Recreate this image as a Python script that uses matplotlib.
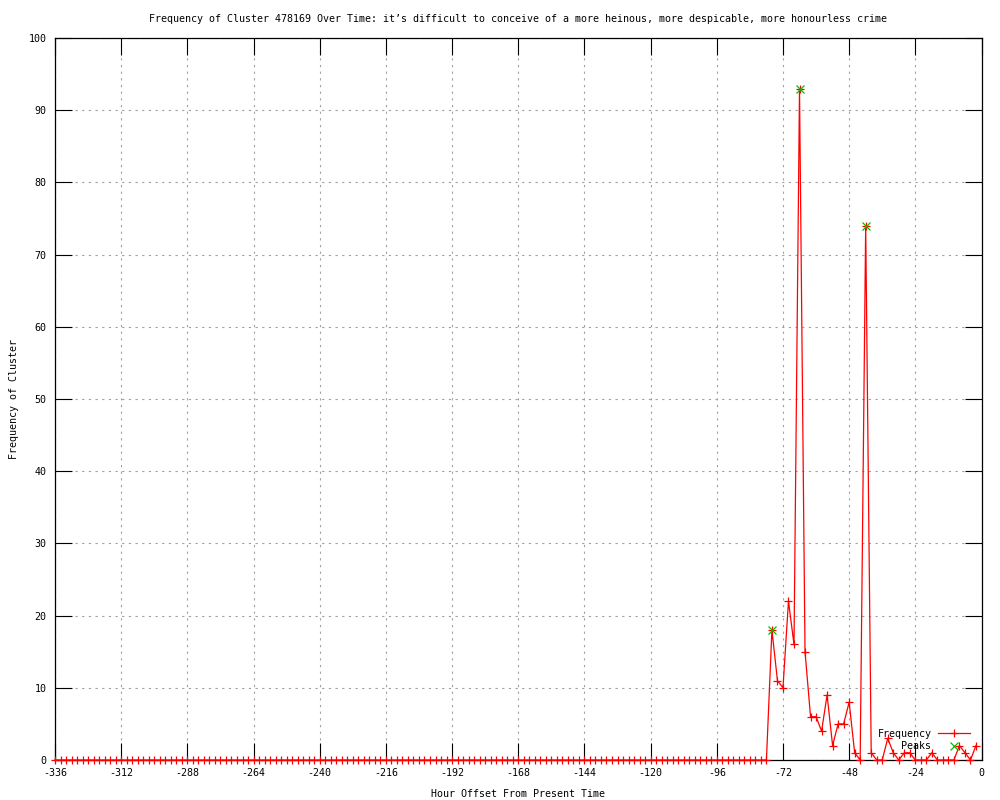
import numpy as np
import matplotlib
matplotlib.use("Agg")
import matplotlib.pyplot as plt

plt.rcParams['font.family'] = ['DejaVu Sans Mono']
plt.rcParams['axes.unicode_minus'] = False

# hour offsets, one reading every 2 hours
hours = np.arange(-336, 0, 2)

# cluster frequency per 2-hour bin, -336 .. -2
freq = [
    0, 0, 0, 0, 0, 0, 0, 0, 0, 0, 0, 0,   # -336 .. -314
    0, 0, 0, 0, 0, 0, 0, 0, 0, 0, 0, 0,   # -312 .. -290
    0, 0, 0, 0, 0, 0, 0, 0, 0, 0, 0, 0,   # -288 .. -266
    0, 0, 0, 0, 0, 0, 0, 0, 0, 0, 0, 0,   # -264 .. -242
    0, 0, 0, 0, 0, 0, 0, 0, 0, 0, 0, 0,   # -240 .. -218
    0, 0, 0, 0, 0, 0, 0, 0, 0, 0, 0, 0,   # -216 .. -194
    0, 0, 0, 0, 0, 0, 0, 0, 0, 0, 0, 0,   # -192 .. -170
    0, 0, 0, 0, 0, 0, 0, 0, 0, 0, 0, 0,   # -168 .. -146
    0, 0, 0, 0, 0, 0, 0, 0, 0, 0, 0, 0,   # -144 .. -122
    0, 0, 0, 0, 0, 0, 0, 0, 0, 0, 0, 0,   # -120 .. -98
    0, 0, 0, 0, 0, 0, 0, 0, 0, 0, 18, 11, # -96 .. -74
    10, 22, 16, 93, 15, 6, 6, 4, 9, 2, 5, 5,  # -72 .. -50
    8, 1, 0, 74, 1, 0, 0, 3, 1, 0, 1, 1,  # -48 .. -26
    0, 0, 0, 1, 0, 0, 0, 0, 2, 1, 0, 2,   # -24 .. -2
]

peak_hours = [-76, -66, -42]
peak_vals = [18, 93, 74]

xticks = np.arange(-336, 1, 24)
yticks = np.arange(0, 101, 10)

fig = plt.figure(figsize=(10, 8), dpi=100)
ax = fig.add_axes([0.055, 0.05, 0.9265, 0.9025])

ax.plot(hours, freq, color='red', lw=0.9, marker='+', ms=6, mew=0.9,
        label='Frequency', clip_on=False, zorder=3)
ax.plot(peak_hours, peak_vals, ls='none', color='#00c000', marker='x', ms=5.5,
        mew=0.9, label='Peaks', clip_on=False, zorder=4)

ax.set_xlim(-336, 0)
ax.set_ylim(0, 100)
ax.set_xticks(xticks)
ax.set_yticks(yticks)
ax.grid(True, color='#a0a0a0', ls=(0, (2, 4)), lw=0.8)
ax.set_axisbelow(True)
ax.tick_params(direction='in', length=12, width=0.8, top=True, right=True,
               labelsize=7.2, pad=6, colors='black')
for s in ax.spines.values():
    s.set_linewidth(0.9)

ax.set_title("Frequency of Cluster 478169 Over Time: it\u2019s difficult to conceive of a more heinous, more despicable, more honourless crime",
             fontsize=7.2, pad=11.5)
ax.set_xlabel("Hour Offset From Present Time", fontsize=7.2, labelpad=7.5)
ax.set_ylabel("Frequency of Cluster", fontsize=7.2, labelpad=7)

ax.legend(loc='lower right', bbox_to_anchor=(0.988, 0.012), frameon=False,
          markerfirst=False, fontsize=7.2, handlelength=3.2, handletextpad=0.7,
          labelspacing=0.25, borderpad=0, borderaxespad=0)

fig.savefig("out.png", dpi=100)
